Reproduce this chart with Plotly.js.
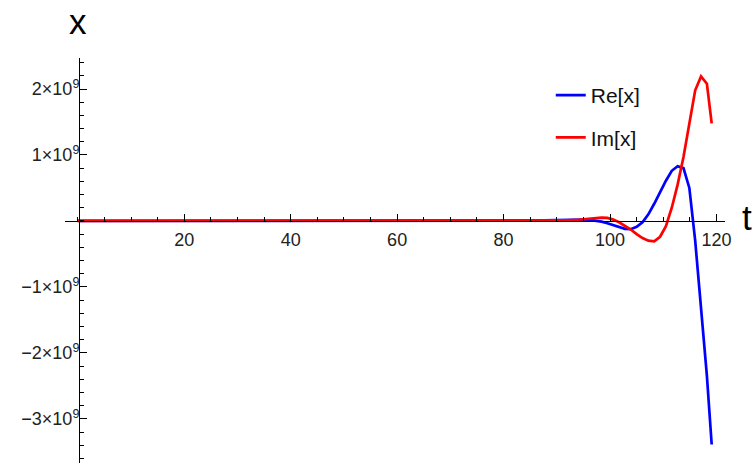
<!DOCTYPE html>
<html>
<head>
<meta charset="utf-8">
<script src="https://cdn.plot.ly/plotly-3.0.1.min.js"></script>
<style>html,body{margin:0;padding:0;background:#fff;}#chart{width:752px;height:466px;}</style>
</head>
<body>
<div id="chart"></div>
<script>
// time samples
const t = [0, 10, 20, 30, 40, 50, 60, 70, 80, 85, 90, 92, 94, 95.1, 96.2, 97.3, 98.4, 99.5, 100.6, 101.7,
  102.8, 103.9, 105.0, 106.1, 107.2, 108.3, 109.4, 110.5, 111.6, 112.7, 113.8, 114.9, 116.0, 117.1, 118.2, 119.1];
// values in units of 1e9
const reX = [0, 0, 0, 0, 0, 0, 0, 0, 0.002, 0.005, 0.012, 0.018, 0.02, 0.02, 0.015, 0.005, -0.01, -0.035, -0.06, -0.09,
  -0.12, -0.125, -0.09, -0.02, 0.1, 0.26, 0.44, 0.61, 0.76, 0.83, 0.8, 0.5, -0.3, -1.3, -2.35, -3.39];
const imX = [0, 0, 0, 0, 0, 0, 0, 0, 0, 0.002, 0.005, 0.01, 0.018, 0.025, 0.035, 0.045, 0.05, 0.045, 0.02, -0.02,
  -0.07, -0.13, -0.20, -0.26, -0.30, -0.31, -0.24, -0.08, 0.2, 0.55, 0.97, 1.48, 1.98, 2.19, 2.08, 1.48];
const xTicks = [20, 40, 60, 80, 100, 120];
const yTicks = [-3, -2, -1, 1, 2];
const yTickText = ['\u22123\u00d710<sup>9</sup>', '\u22122\u00d710<sup>9</sup>', '\u22121\u00d710<sup>9</sup>',
  '1\u00d710<sup>9</sup>', '2\u00d710<sup>9</sup>'];
const seriesNames = ['Re[x]', 'Im[x]'];

const FONT = 'Liberation Sans, Arial, sans-serif';
const xRange = [-2.4, 121.6];
const yRange = [-3.67, 2.47];

const traces = [
  {x: t, y: reX, name: seriesNames[0], type: 'scatter', mode: 'lines',
   line: {color: '#0000ff', width: 2.7}, legendgroup: 'a'},
  {x: t, y: imX, name: seriesNames[1], type: 'scatter', mode: 'lines',
   line: {color: '#ff0000', width: 2.7}, legendgroup: 'b'}
];

const layout = {
  width: 752, height: 466,
  margin: {l: 65, r: 27, t: 58, b: 3},
  paper_bgcolor: '#fff', plot_bgcolor: '#fff',
  font: {family: FONT, size: 18, color: '#222'},
  showlegend: true,
  legend: {x: 0.736, y: 0.958, xanchor: 'left', yanchor: 'top', bgcolor: 'rgba(0,0,0,0)',
    font: {family: FONT, size: 21, color: '#111'}, traceorder: 'grouped', tracegroupgap: 12},
  xaxis: {
    range: xRange, domain: [0, 1], anchor: 'free', position: (0 - yRange[0]) / (yRange[1] - yRange[0]),
    showline: true, linecolor: '#000', linewidth: 1, showgrid: false, zeroline: false,
    ticks: 'inside', ticklen: 7, tickwidth: 1, tickcolor: '#000', ticklabelstandoff: 2,
    tickmode: 'array', tickvals: xTicks, tickfont: {family: FONT, size: 18, color: '#222'},
    minor: {dtick: 5, tick0: 0, ticks: 'inside', ticklen: 4, tickwidth: 1, tickcolor: '#000', showgrid: false}
  },
  yaxis: {
    range: yRange, domain: [0, 1], anchor: 'free', position: 0.0212,
    showline: true, linecolor: '#000', linewidth: 1, showgrid: false, zeroline: false,
    ticks: 'inside', ticklen: 7, tickwidth: 1, tickcolor: '#000', ticklabelstandoff: -4,
    tickmode: 'array', tickvals: yTicks, ticktext: yTickText, tickfont: {family: FONT, size: 18, color: '#222'},
    minor: {dtick: 0.2, tick0: 0, ticks: 'inside', ticklen: 4, tickwidth: 1, tickcolor: '#000', showgrid: false}
  },
  annotations: [
    {text: 'x', xref: 'paper', yref: 'paper', x: 0.0194, y: 1.037, xanchor: 'center', yanchor: 'bottom',
     showarrow: false, font: {family: FONT, size: 35, color: '#000'}},
    {text: 't', xref: 'paper', yref: 'paper', x: 1.0329, y: 0.605, xanchor: 'center', yanchor: 'middle',
     showarrow: false, font: {family: FONT, size: 35, color: '#000'}}
  ]
};

Plotly.newPlot('chart', traces, layout, {displayModeBar: false, staticPlot: true});
</script>
</body>
</html>
